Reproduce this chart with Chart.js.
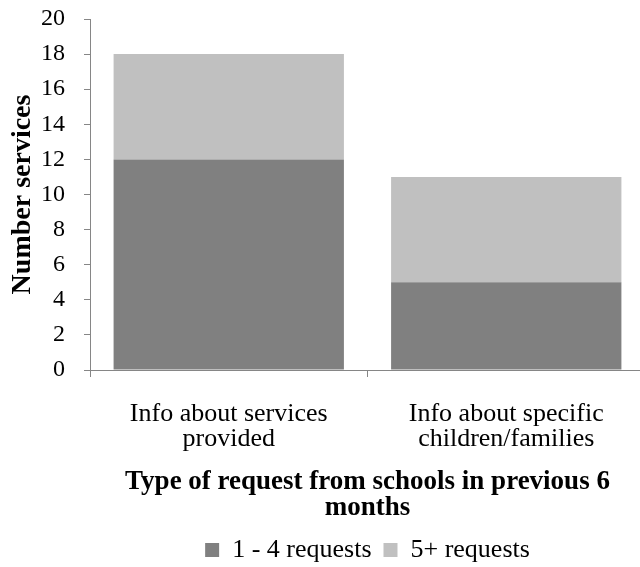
<!DOCTYPE html>
<html>
<head>
<meta charset="utf-8">
<script src="https://cdn.jsdelivr.net/npm/chart.js@4/dist/chart.umd.min.js"></script>
<style>
  html, body { margin: 0; padding: 0; background: #fff; overflow: hidden; width: 640px; height: 567px; }
  #wrap { width: 660px; height: 567px; }
  canvas { display: block; }
</style>
</head>
<body>
<div id="wrap"><canvas id="c" width="660" height="567"></canvas></div>
<script>
// Request types and counts of services
const categories = [
  ['Info about services', 'provided'],
  ['Info about specific', 'children/families']
];
const seriesNames = ['1 - 4 requests', '5+ requests'];
const oneToFour = [12, 5];
const fivePlus = [6, 6];
const yTicks = [0, 2, 4, 6, 8, 10, 12, 14, 16, 18, 20];

const serif = "'Liberation Serif', 'Times New Roman', serif";
const axisGray = '#868686';

function draw() {
  new Chart(document.getElementById('c'), {
    type: 'bar',
    data: {
      labels: categories,
      datasets: [
        { label: seriesNames[0], data: oneToFour, backgroundColor: '#808080', barPercentage: 0.83, categoryPercentage: 1 },
        { label: seriesNames[1], data: fivePlus, backgroundColor: '#c0c0c0', barPercentage: 0.83, categoryPercentage: 1 }
      ]
    },
    options: {
      responsive: false,
      animation: false,
      layout: { padding: { top: 19, right: 15, left: 0, bottom: -6 } },
      plugins: {
        tooltip: { enabled: false },
        legend: {
          position: 'bottom',
          fullSize: false,
          labels: {
            color: '#000',
            font: { family: serif, size: 26, lineHeight: 0.5 },
            boxWidth: 14,
            boxHeight: 14,
            padding: 12
          }
        }
      },
      scales: {
        x: {
          stacked: true,
          grid: { drawOnChartArea: false, drawTicks: true, tickLength: 7, color: axisGray, offset: true },
          border: { color: axisGray, width: 1 },
          ticks: { color: '#000', font: { family: serif, size: 26, lineHeight: 0.95 }, padding: 25, maxRotation: 0 },
          title: {
            display: true,
            text: ['Type of request from schools in previous 6', 'months'],
            color: '#000',
            font: { family: serif, size: 27, weight: 'bold', lineHeight: 0.96 },
            padding: { top: 0, bottom: 4 }
          },
          afterFit: (s) => { s.height = 155; s.paddingLeft = 0; s.paddingRight = 0; }
        },
        y: {
          stacked: true,
          min: 0,
          max: 20,
          afterBuildTicks: (s) => { s.ticks = yTicks.map(v => ({ value: v })); },
          grid: { drawOnChartArea: false, drawTicks: true, tickLength: 6, color: axisGray },
          border: { color: axisGray, width: 1 },
          ticks: { color: '#000', font: { family: serif, size: 24 }, padding: 19 },
          title: {
            display: true,
            text: 'Number services',
            color: '#000',
            font: { family: serif, size: 28, weight: 'bold', lineHeight: 1.2 },
            padding: { top: 6, bottom: 0 }
          },
          afterFit: (s) => { s.width = 90; s.paddingTop = 0; s.paddingBottom = 0; }
        }
      }
    }
  });
}

Promise.all([
  document.fonts.load('24px "Liberation Serif"'),
  document.fonts.load('bold 24px "Liberation Serif"')
]).then(draw, draw);
</script>
</body>
</html>
